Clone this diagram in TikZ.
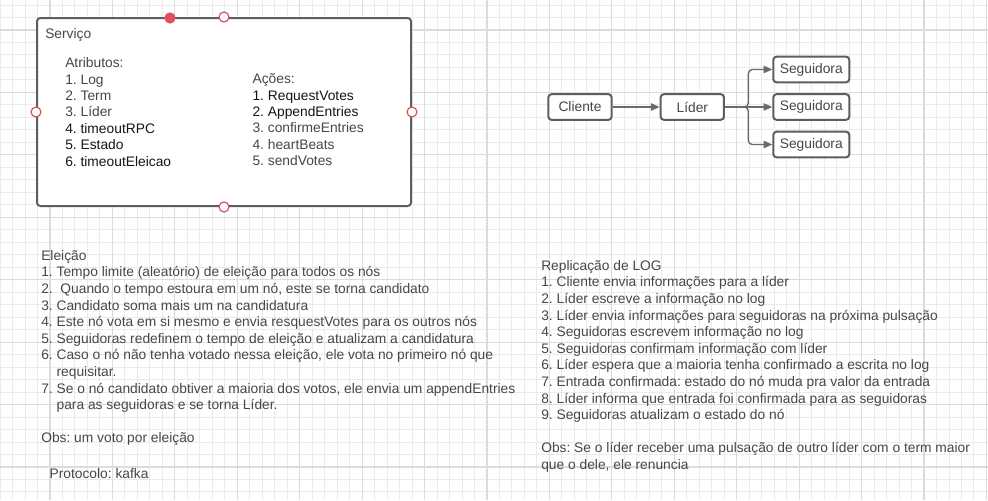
\documentclass[tikz,border=0pt]{standalone}
\usepackage{xcolor}
\usepackage{fontspec}
\setmainfont{Liberation Sans}
\usepackage{tikz}
\usetikzlibrary{arrows.meta}
\frenchspacing

\definecolor{gridminor}{HTML}{EBEBEB}
\definecolor{gridmajor}{HTML}{DCDCDC}
\definecolor{boxline}{HTML}{5E5E5E}
\definecolor{textgray}{HTML}{474747}
\definecolor{textblack}{HTML}{151515}
\definecolor{pinred}{HTML}{E0515F}
\definecolor{connline}{HTML}{6A6A6A}

\tikzset{
  card/.style={draw=boxline, line width=1.5pt, rounded corners=2.5pt, fill=white, text=textgray,
    font=\fontsize{10.35}{12}\selectfont, minimum height=19.3pt, inner sep=0pt},
  pin/.style={circle, draw=pinred, line width=0.9pt, fill=white, minimum size=7.5pt, inner sep=0pt},
  link/.style={draw=connline, line width=1pt, -{Triangle[length=6.5pt,width=5.5pt]}},
  notes/.style={anchor=north west, inner sep=0.75pt, align=left, text=textgray,
    font=\fontsize{10.35}{12.45}\selectfont},
}

\begin{document}
\begin{tikzpicture}[x=0.75pt,y=0.75pt,yscale=-1,xscale=1]
\useasboundingbox (0,0) rectangle (988,500);

% grid
\fill[white] (0,0) rectangle (988,500);
\foreach \i in {-4,...,75} \draw[gridminor, line width=0.75pt] ({50+12.486*\i},0) -- ({50+12.486*\i},500);
\foreach \i in {-2,...,37} \draw[gridminor, line width=0.75pt] (0,{30+12.486*\i}) -- (988,{30+12.486*\i});
\foreach \j in {0,...,15} \draw[gridmajor, line width=0.9pt] ({50+62.43*\j},0) -- ({50+62.43*\j},500);
\foreach \j in {0,...,7} \draw[gridmajor, line width=0.9pt] (0,{30+62.43*\j}) -- (988,{30+62.43*\j});

% Servico box
\node[card, minimum width=280.5pt, minimum height=141pt] (servico) at (224,112) {};
\node[pin] (pinN) at (servico.north) {};
\node[pin] (pinS) at (servico.south) {};
\node[pin] (pinW) at (servico.west) {};
\node[pin] (pinE) at (servico.east) {};
\node[pin, fill=pinred] (pinsel) at (170,18) {};

% Text Node
\draw (44,27) node [notes] (titulo) {Serviço};
% Text Node
\draw (64,56.5) node [notes, font=\fontsize{10.35}{12.3}\selectfont] (atributos) {Atributos:
\\1. Log
\\2. Term
\\3. Líder
\\\textcolor{textblack}{4. timeoutRPC}
\\\textcolor{textblack}{5. Estado}
\\\textcolor{textblack}{6. timeoutEleicao}};
% Text Node
\draw (251.3,72.5) node [notes, font=\fontsize{10.35}{12.3}\selectfont] (acoes) {Ações:
\\\textcolor{textblack}{1. RequestVotes}
\\\textcolor{textblack}{2. AppendEntries}
\\3. confirmeEntries
\\4. heartBeats
\\5. sendVotes};

% replication flow
\node[card, minimum width=47.5pt] (cliente) at (580,107) {Cliente};
\node[card, minimum width=47.5pt] (lider) at (692.3,107) {Líder};
\node[card, minimum width=57pt] (seg1) at (811.3,69.5) {Seguidora};
\node[card, minimum width=57pt] (seg2) at (811.3,107) {Seguidora};
\node[card, minimum width=57pt] (seg3) at (811.3,144.5) {Seguidora};
\coordinate (split) at (748.3,107);

\draw[link] (cliente) -- (lider);
\draw[link, rounded corners=3pt] (lider.east) -- (split) |- (seg1.west);
\draw[link] (lider.east) -- (seg2.west);
\draw[link, rounded corners=3pt] (lider.east) -- (split) |- (seg3.west);

% Text Node
\draw (40,249) node [notes] (eleicao) {Eleição
\\1. Tempo limite (aleatório) de eleição para todos os nós
\\2.\ \ Quando o tempo estoura em um nó, este se torna candidato
\\3. Candidato soma mais um na candidatura
\\4. Este nó vota em si mesmo e envia resquestVotes para os outros nós
\\5. Seguidoras redefinem o tempo de eleição e atualizam a candidatura
\\6. Caso o nó não tenha votado nessa eleição, ele vota no primeiro nó que
\\\phantom{6. }requisitar.
\\7. Se o nó candidato obtiver a maioria dos votos, ele envia um appendEntries
\\\phantom{7. }para as seguidoras e se torna Líder.
\\[12.45pt]Obs: um voto por eleição};
% Text Node
\draw (48.3,467.7) node [notes] (protocolo) {Protocolo: kafka};

% Text Node
\draw (540,259) node [notes] (replicacao) {Replicação de LOG
\\1. Cliente envia informações para a líder
\\2. Líder escreve a informação no log
\\3. Líder envia informações para seguidoras na próxima pulsação
\\4. Seguidoras escrevem informação no log
\\5. Seguidoras confirmam informação com líder
\\6. Líder espera que a maioria tenha confirmado a escrita no log
\\7. Entrada confirmada: estado do nó muda pra valor da entrada
\\8. Líder informa que entrada foi confirmada para as seguidoras
\\9. Seguidoras atualizam o estado do nó
\\[12.45pt]Obs: Se o líder receber uma pulsação de outro líder com o term maior
\\que o dele, ele renuncia};

\end{tikzpicture}
\end{document}
